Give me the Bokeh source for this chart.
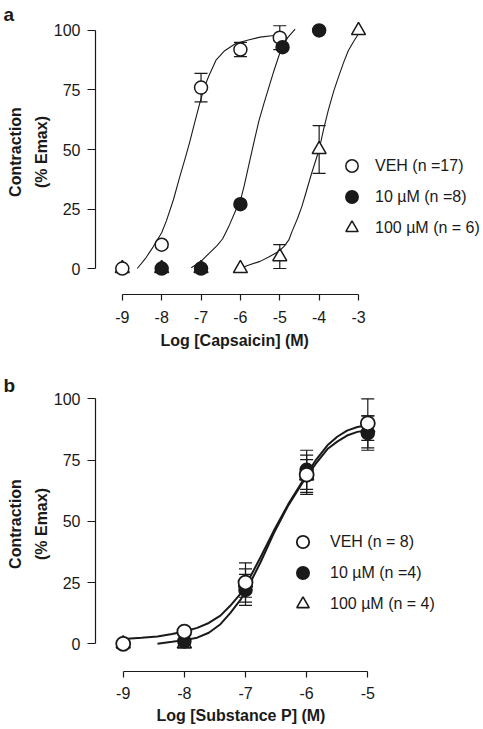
from bokeh.plotting import figure
from bokeh.models import (FixedTicker, Whisker, ColumnDataSource, Legend, LegendItem,
                          Title, TeeHead)
from bokeh.layouts import column
from bokeh.embed import file_html
from bokeh.resources import INLINE

FONT = "Liberation Sans"
INK = "#1a1a1a"

# ---------------- Panel a : capsaicin ----------------
a_xticks = [-9, -8, -7, -6, -5, -4, -3]
a_yticks = [0, 25, 50, 75, 100]
a_xlabel = "Log [Capsaicin] (M)"
a_labels = ["VEH (n =17)", "10 \u00b5M (n =8)", "100 \u00b5M (n = 6)"]

a_veh_x = [-9, -8, -7, -6, -5]
a_veh_y = [0, 10, 76, 92, 97]
a_veh_err = [0, 0, 6, 3, 5]

a_10_x = [-8, -7, -6, -4.93, -4]
a_10_y = [0, 0, 27, 93, 100]

a_100_x = [-9, -8, -7, -6, -5, -4, -3]
a_100_y = [0, 0, 0, 0, 5, 50, 100]
a_100_err = [0, 0, 0, 0, 5, 10, 0]

# fitted curves
a_veh_cx = [-8.62, -8.4, -8.22, -8.0, -7.88, -7.7, -7.55, -7.4, -7.29, -7.15, -7.04,
            -6.92, -6.8, -6.62, -6.4, -6.12, -5.8, -5.5, -5.15, -5.0]
a_veh_cy = [0, 4.5, 9, 15, 20, 29, 38, 46.5, 53, 62, 69,
            76, 81, 87.5, 91.5, 94.5, 96, 97.2, 97.9, 98]
a_10_cx = [-7.25, -7.0, -6.79, -6.6, -6.45, -6.3, -6.12, -6.0, -5.9, -5.78, -5.65,
           -5.53, -5.4, -5.28, -5.15, -5.02, -4.94, -4.8, -4.61]
a_10_cy = [0.3, 3, 6.5, 9.5, 12.5, 17.5, 24.4, 28.5, 35, 44, 53.5,
           62, 69.5, 76, 83, 89.5, 93, 97, 100.6]
a_100_cx = [-6.0, -5.82, -5.5, -5.28, -5.0, -4.88, -4.77, -4.69, -4.55, -4.44, -4.35,
            -4.2, -4.0, -3.88, -3.76, -3.63, -3.51, -3.38, -3.26, -3.12, -3.0]
a_100_cy = [0, 1.3, 3, 4.8, 7.5, 9.5, 12, 15.5, 21, 26, 31,
            39.5, 50, 59, 67, 74.5, 80.4, 86.5, 91.5, 95.5, 98.6]

# ---------------- Panel b : substance P ----------------
b_xticks = [-9, -8, -7, -6, -5]
b_yticks = [0, 25, 50, 75, 100]
b_xlabel = "Log [Substance P] (M)"
b_labels = ["VEH (n = 8)", "10 \u00b5M (n =4)", "100 \u00b5M (n = 4)"]

b_veh_x = [-9, -8, -7, -6, -5]
b_veh_y = [0, 5, 25, 69, 90]
b_veh_err = [0, 0, 8, 8, 10]

b_10_x = [-8, -7, -6, -5]
b_10_y = [1, 22, 71, 86]
b_10_err = [0, 6.3, 8, 7]

b_100_x = [-9, -8, -7, -6, -5]
b_100_y = [0, 0, 24.8, 68.5, 88]
b_100_err = [0, 0, 5.8, 6.7, 5]

b_veh_cx = [-9.0, -8.7, -8.44, -8.2, -8.0, -7.79, -7.6, -7.41, -7.25, -7.08, -6.92,
            -6.75, -6.54, -6.3, -6.05, -5.85, -5.66, -5.5, -5.34, -5.17, -5.0]
b_veh_cy = [2, 2.5, 3, 4, 5, 6.5, 8.5, 11.5, 15.5, 20.5, 27.5,
            35.5, 46, 57, 67, 75, 81, 84.5, 87, 88.5, 89.2]
b_10_cx = [-8.44, -8.2, -8.0, -7.79, -7.6, -7.41, -7.25, -7.08, -6.92, -6.75,
           -6.54, -6.3, -6.05, -5.85, -5.66, -5.5, -5.34, -5.17, -5.0]
b_10_cy = [0, 0.8, 1.5, 2.5, 4.5, 8, 12.5, 18, 25, 33.5,
           45, 56.5, 66.5, 73.5, 79.5, 82.5, 85, 86.5, 87.2]


def make_fig(width, height, xr, yr, borders, panel_letter, letter_offset, letter_standoff):
    l, r, t, b = borders
    p = figure(width=width, height=height, x_range=xr, y_range=yr,
               min_border_left=l, min_border_right=r, min_border_top=t,
               min_border_bottom=b, toolbar_location=None, output_backend="svg",
               background_fill_color="white", border_fill_color="white",
               title=panel_letter)
    p.title.align = "left"
    p.title.offset = letter_offset
    p.title.standoff = letter_standoff
    p.title.text_font = FONT
    p.title.text_font_size = "19px"
    p.title.text_font_style = "bold"
    p.title.text_color = INK
    p.xgrid.visible = False
    p.ygrid.visible = False
    p.outline_line_color = None
    return p


def style_axes(p, xticks, yticks, xlabel, xstand, xlab_offset, xlab_standoff):
    xa = p.xaxis[0]
    ya = p.yaxis[0]
    xa.ticker = FixedTicker(ticks=xticks)
    xa.major_label_overrides = {t: str(t) for t in xticks}
    xa.bounds = (xticks[0], xticks[-1])
    ya.ticker = FixedTicker(ticks=yticks)
    ya.major_label_overrides = {t: str(t) for t in yticks}
    ya.bounds = (yticks[0], yticks[-1])
    for ax in (xa, ya):
        ax.axis_line_color = INK
        ax.axis_line_width = 1.2
        ax.major_tick_line_color = INK
        ax.major_tick_line_width = 1.2
        ax.major_tick_in = 0
        ax.minor_tick_line_color = None
        ax.major_label_text_font = FONT
        ax.major_label_text_font_size = "16px"
        ax.major_label_text_color = INK
        ax.axis_label_text_font = FONT
        ax.axis_label_text_font_size = "16px"
        ax.axis_label_text_font_style = "bold"
        ax.axis_label_text_color = INK
    xa.major_tick_out = 6
    xa.major_label_standoff = xstand
    ya.major_tick_out = 8
    ya.major_label_standoff = 7
    ya.axis_label = "Contraction\n(% Emax)"
    ya.axis_label_standoff = 1
    ya.axis_label_text_line_height = 1.5
    # x-axis title, left-aligned so it sits centred under the tick span
    p.add_layout(Title(text=xlabel, align="left", offset=xlab_offset,
                       standoff=xlab_standoff, text_font=FONT,
                       text_font_size="16px", text_font_style="bold",
                       text_color=INK), "below")


def whiskers(p, xs, ys, errs):
    base, lo, hi = [], [], []
    for x, y, e in zip(xs, ys, errs):
        if e > 0:
            base.append(x)
            lo.append(y - e)
            hi.append(y + e)
    src = ColumnDataSource(dict(base=base, lower=lo, upper=hi))
    w = Whisker(source=src, base="base", lower="lower", upper="upper",
                dimension="height", line_color=INK, line_width=1.2, level="underlay",
                upper_head=TeeHead(size=13, line_color=INK, line_width=1.2),
                lower_head=TeeHead(size=13, line_color=INK, line_width=1.2))
    p.add_layout(w)


def make_legend(p, items, loc, standoff):
    lg = Legend(items=items, location=loc, orientation="vertical",
                label_text_font=FONT, label_text_font_size="16px",
                label_text_color=INK, glyph_width=33, glyph_height=31,
                label_height=31, label_standoff=standoff, spacing=0,
                padding=0, margin=0, border_line_color=None,
                background_fill_alpha=0)
    p.add_layout(lg)


# ---------------- build panel a ----------------
pa = make_fig(483, 362, (-9.681, 0.175), (-10.92, 108.82), (92, 0, 9, 68), "a", -92, -30)
style_axes(pa, a_xticks, a_yticks, a_xlabel, 10, 65, 8)
whiskers(pa, a_veh_x, a_veh_y, a_veh_err)
whiskers(pa, a_100_x, a_100_y, a_100_err)
for cx, cy in ((a_veh_cx, a_veh_cy), (a_10_cx, a_10_cy), (a_100_cx, a_100_cy)):
    pa.line(cx, cy, line_color=INK, line_width=1.1)
ra100 = pa.scatter(a_100_x, a_100_y, marker="triangle", size=14, fill_color="white",
                   line_color=INK, line_width=1.5)
raveh = pa.scatter(a_veh_x, a_veh_y, marker="circle", size=13, fill_color="white",
                   line_color=INK, line_width=1.5)
ra10 = pa.scatter(a_10_x, a_10_y, marker="circle", size=13, fill_color=INK,
                  line_color=INK, line_width=1.5)
make_legend(pa, [LegendItem(label=a_labels[0], renderers=[raveh]),
                 LegendItem(label=a_labels[1], renderers=[ra10]),
                 LegendItem(label=a_labels[2], renderers=[ra100])], (240, 51), 7)

# ---------------- build panel b ----------------
pb = make_fig(483, 367, (-9.453, -3.108), (-11.31, 109.10), (95, 0, 14, 58), "b", -92, -38)
style_axes(pb, b_xticks, b_yticks, b_xlabel, 9, 61, 7)
whiskers(pb, b_veh_x, b_veh_y, b_veh_err)
whiskers(pb, b_10_x, b_10_y, b_10_err)
whiskers(pb, b_100_x, b_100_y, b_100_err)
for cx, cy in ((b_veh_cx, b_veh_cy), (b_10_cx, b_10_cy)):
    pb.line(cx, cy, line_color=INK, line_width=2.0)
rb100 = pb.scatter(b_100_x, b_100_y, marker="triangle", size=14, fill_color="white",
                   line_color=INK, line_width=1.6)
rb10 = pb.scatter(b_10_x, b_10_y, marker="circle", size=13, fill_color=INK,
                  line_color=INK, line_width=1.6)
rbveh = pb.scatter(b_veh_x, b_veh_y, marker="circle", size=14, fill_color="white",
                   line_color=INK, line_width=1.8)
make_legend(pb, [LegendItem(label=b_labels[0], renderers=[rbveh]),
                 LegendItem(label=b_labels[1], renderers=[rb10]),
                 LegendItem(label=b_labels[2], renderers=[rb100])], (191, 52), 11)

layout = column(pa, pb, spacing=0)
open("out.html", "w").write(file_html(layout, INLINE))
